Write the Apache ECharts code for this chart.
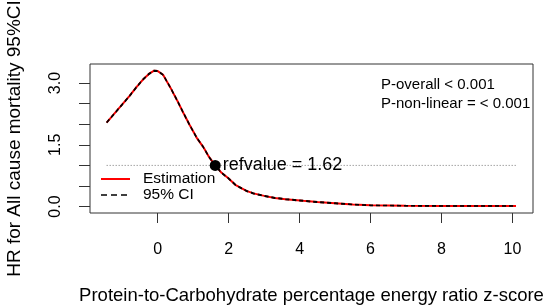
<!DOCTYPE html>
<html>
<head>
<meta charset="utf-8">
<script src="https://cdn.jsdelivr.net/npm/echarts@6/dist/echarts.min.js"></script>
<style>
  html, body { margin: 0; padding: 0; background: #fff; }
  #chart { width: 546px; height: 306px; }
</style>
</head>
<body>
<div id="chart"></div>
<script>
// z-score values and hazard ratio
const zScore = [-1.44, -1.2, -1.0, -0.8, -0.6, -0.4, -0.25, -0.1, 0.0, 0.15, 0.35, 0.54, 0.72, 0.9, 1.1, 1.28, 1.45, 1.62, 1.8, 2.0, 2.2, 2.5, 2.7, 3.0, 3.3, 3.6, 4.1, 4.5, 5.0, 5.5, 6.0, 7.0, 8.0, 9.0, 10.1]
const estimation = [2.04, 2.28, 2.48, 2.68, 2.90, 3.10, 3.22, 3.30, 3.29, 3.20, 2.90, 2.59, 2.28, 1.98, 1.67, 1.45, 1.20, 1.00, 0.82, 0.68, 0.52, 0.38, 0.32, 0.26, 0.21, 0.18, 0.14, 0.11, 0.08, 0.05, 0.03, 0.02, 0.015, 0.015, 0.015]
const ciLower = [2.03, 2.27, 2.47, 2.67, 2.89, 3.09, 3.21, 3.29, 3.28, 3.19, 2.89, 2.58, 2.27, 1.97, 1.66, 1.44, 1.19, 0.99, 0.81, 0.67, 0.51, 0.37, 0.31, 0.25, 0.20, 0.17, 0.13, 0.10, 0.07, 0.045, 0.025, 0.015, 0.01, 0.01, 0.01]
const ciUpper = [2.05, 2.29, 2.49, 2.69, 2.91, 3.11, 3.23, 3.31, 3.30, 3.21, 2.91, 2.60, 2.29, 1.99, 1.68, 1.46, 1.21, 1.01, 0.83, 0.69, 0.53, 0.39, 0.33, 0.27, 0.22, 0.19, 0.15, 0.12, 0.09, 0.055, 0.035, 0.025, 0.02, 0.02, 0.02]
const refValue = [1.62, 1.0]
const refLineX = [-1.44, 10.1]
const xTicks = [0, 2, 4, 6, 8, 10]
const yTicks = [0, 0.5, 1.0, 1.5, 2.0, 2.5, 3.0]
const yLabels = [0, 1.5, 3.0]

const pair = (xs, ys) => xs.map((x, i) => [x, ys[i]])

const chart = echarts.init(document.getElementById('chart'), null, { renderer: 'canvas' })
const font = 'Liberation Sans, Arial, sans-serif'

// hand-drawn legend, R style (line key + label)
const legendX = 101
const legendRows = [
  { y: 179, text: 'Estimation', stroke: '#ff0000', width: 2, dash: null },
  { y: 195, text: '95% CI', stroke: '#000', width: 1.5, dash: [6, 4] }
]
const legendGraphic = []
legendRows.forEach((r) => {
  legendGraphic.push({
    type: 'line',
    shape: { x1: legendX, y1: r.y, x2: legendX + 29, y2: r.y },
    style: { stroke: r.stroke, lineWidth: r.width, lineDash: r.dash }
  })
  legendGraphic.push({
    type: 'text',
    x: 143,
    y: r.y,
    style: {
      text: r.text, fontSize: 15.5, fill: '#000', fontFamily: font,
      verticalAlign: 'middle'
    }
  })
})

chart.setOption({
  animation: false,
  textStyle: { fontFamily: font },
  grid: {
    left: 90,
    top: 64,
    right: 13,
    bottom: 93,
    outerBoundsMode: 'none',
    containLabel: false,
    show: true,
    borderColor: '#333',
    borderWidth: 1,
    backgroundColor: 'transparent'
  },
  xAxis: {
    type: 'value',
    min: -1.91,
    max: 10.58,
    name: 'Protein-to-Carbohydrate percentage energy ratio z-score',
    nameLocation: 'middle',
    nameGap: 73,
    nameTextStyle: { fontSize: 18.5, color: '#000', fontFamily: font },
    axisLine: { show: false, onZero: false },
    splitLine: { show: false },
    axisTick: {
      show: true, inside: false, length: 10,
      customValues: xTicks,
      lineStyle: { color: '#333', width: 1 }
    },
    axisLabel: {
      customValues: xTicks,
      margin: 29,
      fontSize: 16,
      color: '#000',
      fontFamily: font
    }
  },
  yAxis: {
    type: 'value',
    min: -0.156,
    max: 3.462,
    name: 'HR for All cause mortality 95%CI',
    nameLocation: 'middle',
    nameGap: 66,
    nameTextStyle: { fontSize: 19, color: '#000', fontFamily: font },
    axisLine: { show: false, onZero: false },
    splitLine: { show: false },
    axisTick: {
      show: true, inside: false, length: 11,
      customValues: yTicks,
      lineStyle: { color: '#333', width: 1 }
    },
    axisLabel: {
      customValues: yLabels,
      rotate: 90,
      margin: 26,
      fontSize: 16,
      color: '#000',
      fontFamily: font,
      formatter: (v) => v.toFixed(1)
    }
  },
  graphic: [
    {
      type: 'text',
      left: 381,
      top: 76,
      style: {
        text: 'P-overall < 0.001\nP-non-linear = < 0.001',
        fontSize: 15,
        lineHeight: 18.3,
        fill: '#000',
        fontFamily: font
      }
    }
  ].concat(legendGraphic),
  series: [
    {
      name: 'ref',
      type: 'line',
      data: pair(refLineX, [1, 1]),
      showSymbol: false,
      symbol: 'none',
      lineStyle: { color: '#777', width: 1, type: [1, 2] },
      silent: true,
      z: 1
    },
    {
      name: 'Estimation',
      type: 'line',
      data: pair(zScore, estimation),
      symbol: 'none',
      lineStyle: { color: '#ff0000', width: 2 },
      z: 2
    },
    {
      name: '95% CI',
      type: 'line',
      data: pair(zScore, ciLower),
      symbol: 'none',
      lineStyle: { color: '#000', width: 1.2, type: [4, 3] },
      z: 3
    },
    {
      name: '95% CI',
      type: 'line',
      data: pair(zScore, ciUpper),
      symbol: 'none',
      lineStyle: { color: '#000', width: 1.2, type: [4, 3] },
      z: 3
    },
    {
      name: 'refvalue',
      type: 'scatter',
      data: [refValue],
      symbolSize: 11,
      itemStyle: { color: '#000', opacity: 1 },
      label: {
        show: true,
        position: 'right',
        distance: 2,
        formatter: 'refvalue = ' + refValue[0],
        fontSize: 18,
        color: '#000',
        opacity: 1,
        fontFamily: font
      },
      z: 4
    }
  ]
})
</script>
</body>
</html>
